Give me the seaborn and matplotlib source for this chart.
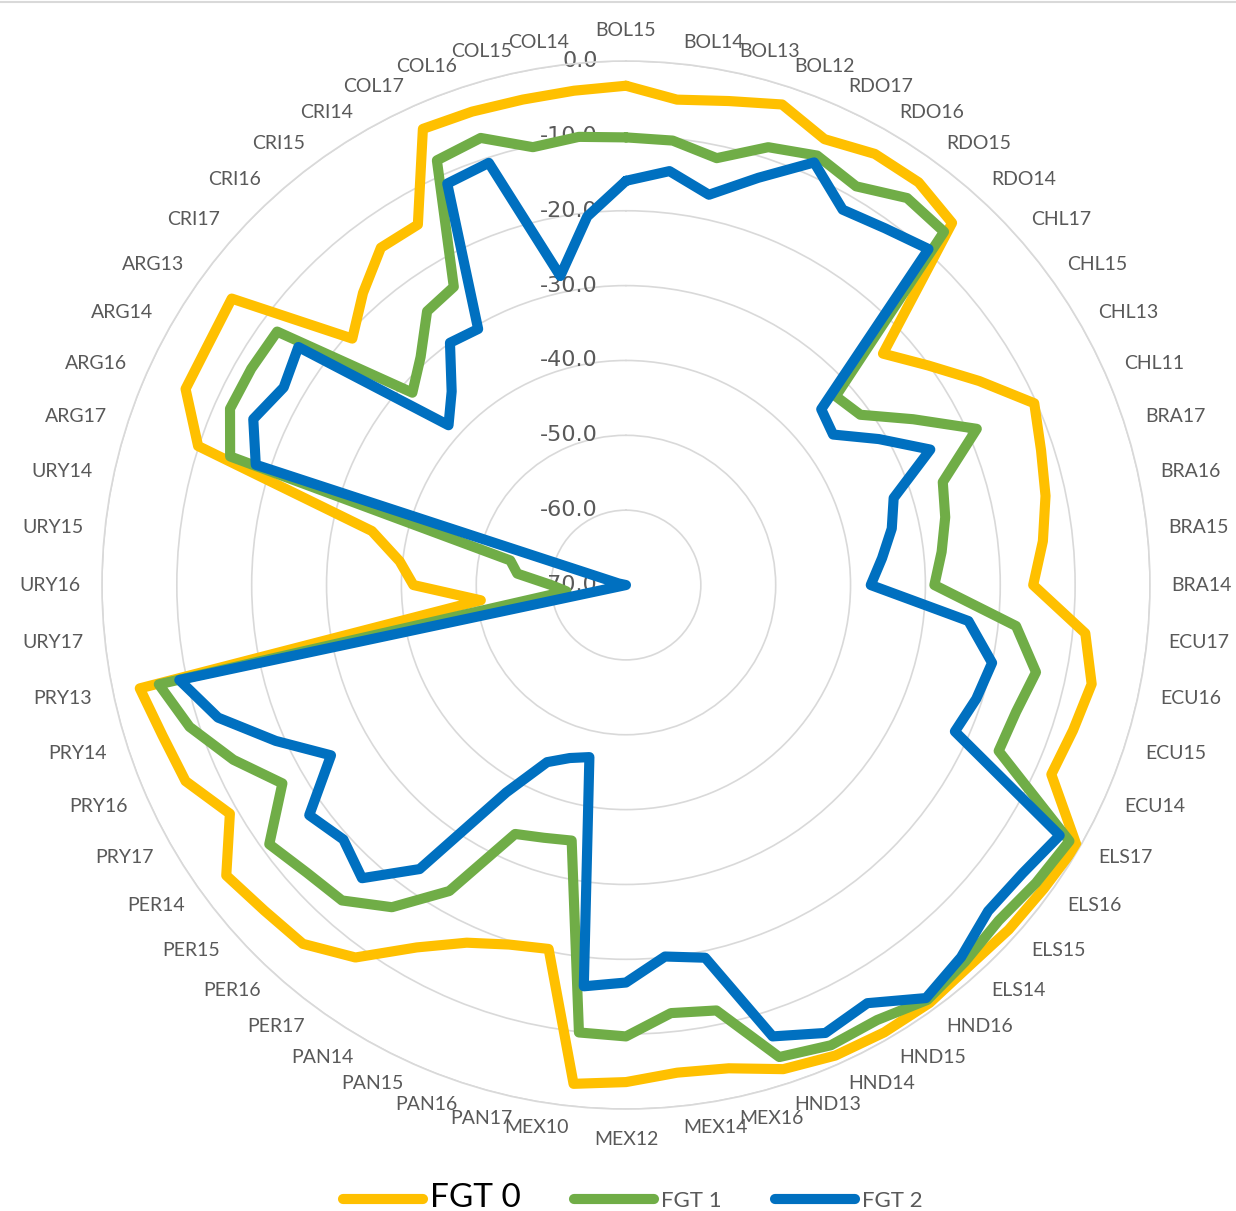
import numpy as np
import pandas as pd
import matplotlib
matplotlib.use("Agg")
import matplotlib.pyplot as plt
import matplotlib.transforms as mtransforms
from matplotlib.lines import Line2D
import seaborn as sns

# Country-year categories, clockwise from the top of the radar
categories = [
    "BOL15", "BOL14", "BOL13", "BOL12", "RDO17", "RDO16", "RDO15", "RDO14",
    "CHL17", "CHL15", "CHL13", "CHL11", "BRA17", "BRA16", "BRA15", "BRA14",
    "ECU17", "ECU16", "ECU15", "ECU14", "ELS17", "ELS16", "ELS15", "ELS14",
    "HND16", "HND15", "HND14", "HND13", "MEX16", "MEX14", "MEX12", "MEX10",
    "PAN17", "PAN16", "PAN15", "PAN14", "PER17", "PER16", "PER15", "PER14",
    "PRY17", "PRY16", "PRY14", "PRY13", "URY17", "URY16", "URY15", "URY14",
    "ARG17", "ARG16", "ARG14", "ARG13", "CRI17", "CRI16", "CRI15", "CRI14",
    "COL17", "COL16", "COL15", "COL14",
]

fgt0 = [-3.3, -4.8, -3.9, -2.5, -4.8, -3.5, -3.5, -4.9,
        -23.8, -20.1, -15.5, -10.3, -11.7, -12.7, -14.0, -15.6,
        -8.3, -6.4, -7.2, -7.8, -0.5, -1.0, -1.2, -1.5,
        -1.0, -1.0, -1.2, -2.0, -4.0, -4.5, -3.6, -3.0,
        -20.3, -19.5, -17.7, -14.1, -8.5, -5.5, -5.0, -4.0,
        -8.9, -5.6, -4.9, -3.6, -50.5, -41.6, -39.6, -35.3,
        -9.9, -5.6, -5.6, -4.9, -20.8, -17.5, -14.3, -14.4,
        -3.3, -3.5, -3.7, -3.6]

fgt1 = [-10.2, -10.3, -11.7, -8.5, -7.2, -8.5, -6.1, -6.5,
        -32.3, -31.3, -25.7, -18.7, -25.5, -26.4, -27.6, -28.8,
        -17.6, -14.0, -15.2, -15.5, -1.6, -2.3, -3.0, -2.3,
        -1.5, -2.9, -2.7, -3.7, -11.9, -12.5, -9.7, -9.9,
        -35.1, -34.5, -33.6, -22.8, -16.8, -13.3, -12.6, -11.1,
        -17.0, -12.6, -8.7, -6.2, -62.0, -60.0, -55.4, -54.2,
        -14.4, -12.1, -12.2, -12.4, -31.6, -29.0, -24.8, -24.0,
        -7.9, -7.2, -10.2, -9.8]

fgt2 = [-16.0, -14.4, -16.7, -12.8, -8.2, -12.1, -11.1, -9.6,
        -34.9, -35.8, -31.0, -25.5, -32.4, -33.7, -35.6, -37.3,
        -24.0, -20.0, -20.8, -21.9, -3.1, -4.5, -4.9, -3.1,
        -1.8, -5.5, -4.5, -6.6, -19.1, -20.1, -16.9, -16.1,
        -46.5, -45.7, -44.1, -38.0, -23.1, -17.3, -19.2, -17.7,
        -24.5, -18.8, -12.7, -9.0, -70.0, -70.0, -70.0, -69.0,
        -18.0, -15.5, -17.2, -15.9, -38.1, -35.2, -30.0, -30.5,
        -11.3, -10.7, -27.8, -20.5]

series_names = ["FGT 0", "FGT 1", "FGT 2"]
series_colors = ["#FFC000", "#70AD47", "#0070C0"]
radial_ticks = [0, -10, -20, -30, -40, -50, -60, -70]

sns.set_theme(style="white")
plt.rcParams["font.family"] = ["Lato", "DejaVu Sans"]

n = len(categories)
theta = np.linspace(0, 2 * np.pi, n, endpoint=False)

# long-form table, each polygon closed back onto its first category
rows = []
for name, vals in zip(series_names, [fgt0, fgt1, fgt2]):
    closed_t = np.append(theta, 2 * np.pi)
    closed_v = list(vals) + [vals[0]]
    for t, v in zip(closed_t, closed_v):
        rows.append({"theta": t, "value": v, "series": name})
df = pd.DataFrame(rows)

fig = plt.figure(figsize=(12.36, 12.11), dpi=100)
ax = fig.add_axes([0.0825, 0.0842, 0.8479, 0.8654], projection="polar")
ax.set_theta_zero_location("N")
ax.set_theta_direction(-1)

sns.lineplot(data=df, x="theta", y="value", hue="series",
             palette=dict(zip(series_names, series_colors)),
             sort=False, estimator=None, linewidth=7.3, legend=False, ax=ax)
for ln in ax.lines:
    ln.set_solid_joinstyle("round")
    ln.set_solid_capstyle("round")
    ln.set_zorder(3)

ax.set_ylim(-70, 0)
ax.set_yticks([-60, -50, -40, -30, -20, -10, 0])
ax.set_yticklabels([])
ax.set_xticks([])
ax.set_xlabel("")
ax.set_ylabel("")
ax.yaxis.grid(True, color="#d9d9d9", linewidth=1.2)
ax.xaxis.grid(False)
ax.spines["polar"].set_color("#d9d9d9")
ax.spines["polar"].set_linewidth(1.2)
ax.set_axisbelow(True)

# radial value labels along the vertical axis
shift = mtransforms.ScaledTranslation(-28 / 100, 0, fig.dpi_scale_trans)
for v in radial_ticks:
    ax.text(0, v, f"{v:.1f}", transform=ax.transData + shift,
            ha="right", va="center", fontsize=16, color="#595959",
            family=["DejaVu Sans"], zorder=1, clip_on=False)

# category labels just outside the outer ring
for t, cat, i in zip(theta, categories, range(n)):
    deg = 6 * i
    if deg == 0:
        ha, va = "center", "bottom"
    elif deg == 180:
        ha, va = "center", "top"
    elif deg < 180:
        ha, va = "left", "center"
    else:
        ha, va = "right", "center"
    ax.text(t, 2.9, cat, ha=ha, va=va, fontsize=14, color="#595959",
            clip_on=False)

handles = [Line2D([], [], color=c, linewidth=7.3) for c in series_colors]
leg = fig.legend(handles, series_names, loc="center",
                 bbox_to_anchor=(0.512, 0.011), ncol=3, frameon=False,
                 fontsize=16, handlelength=3.6, handletextpad=0.3,
                 columnspacing=2.4)
texts = leg.get_texts()
texts[0].set_fontsize(24)
texts[0].set_color("black")
for tx in texts[1:]:
    tx.set_color("#595959")

fig.add_artist(Line2D([0, 1], [0.9985, 0.9985], transform=fig.transFigure,
                      color="#d9d9d9", linewidth=1.5))

fig.savefig("out.png", dpi=100, facecolor="white")
